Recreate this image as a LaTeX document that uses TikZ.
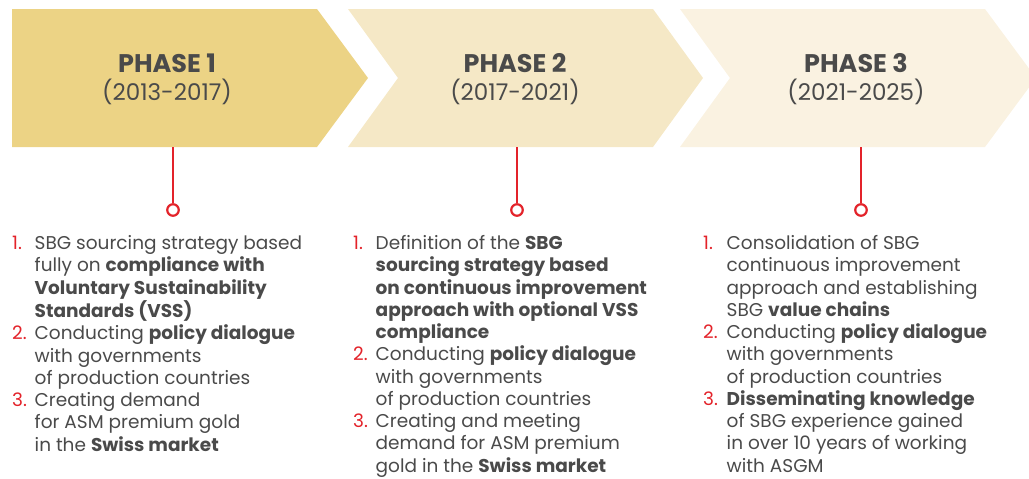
\documentclass[tikz,border=0pt]{standalone}
\usepackage{fontspec}
\setmainfont{Poppins}
\usepackage{array}
\definecolor{phaseA}{HTML}{ECD385}
\definecolor{phaseB}{HTML}{F5E8C6}
\definecolor{phaseC}{HTML}{FAF2E1}
\definecolor{ink}{HTML}{4A4A4A}
\definecolor{numred}{HTML}{E3232A}
\newcommand\num[1]{\textcolor{numred}{#1}}
\newcommand\listfont{\fontsize{18.5}{22.25}\selectfont}
\tikzset{
  phasetitle/.style={text=ink, align=center, inner sep=0pt, font=\fontsize{25.5}{28}\selectfont\bfseries},
  phaseyears/.style={text=ink, align=center, inner sep=0pt, font=\fontsize{23}{28}\selectfont},
  itemlist/.style={text=ink, anchor=north west, inner sep=0pt, font=\listfont},
  stem/.style={draw=numred, line width=2.2pt},
  knob/.style={circle, draw=numred, line width=2.2pt, fill=white, minimum size=11.5pt, inner sep=0pt},
}
\begin{document}
\begin{tikzpicture}[x=1pt,y=-1pt]
\useasboundingbox (0,0) rectangle (1029,479);
\clip (0,0) rectangle (1029,479);

% chevrons
\fill[phaseA] (12,9) -- (317,9) -- (368,78) -- (317,147) -- (12,147) -- cycle;
\fill[phaseB] (348,9) -- (653,9) -- (703,78) -- (653,147) -- (348,147) -- (398,78) -- cycle;
\fill[phaseC] (680,9) -- (985,9) -- (1036,78) -- (985,147) -- (680,147) -- (730,78) -- cycle;

% titles
\node[phasetitle, anchor=base] (t1) at (167,72) {PHASE 1};
\node[phaseyears, anchor=base] (y1) at (167,100) {(2013-2017)};
\node[phasetitle, anchor=base] (t2) at (515,72) {PHASE 2};
\node[phaseyears, anchor=base] (y2) at (515,100) {(2017-2021)};
\node[phasetitle, anchor=base] (t3) at (856,72) {PHASE 3};
\node[phaseyears, anchor=base] (y3) at (856,100) {(2021-2025)};

% stems with end knobs
\coordinate (s1) at (173,147);
\coordinate (s2) at (517,147);
\coordinate (s3) at (861,147);
\node[knob] (k1) at (173,210) {};
\node[knob] (k2) at (517,210) {};
\node[knob] (k3) at (861,210) {};
\draw[stem] (s1) -- (k1.north);
\draw[stem] (s2) -- (k2.north);
\draw[stem] (s3) -- (k3.north);

% item lists
\node[itemlist] (l1) at (12,233.9) {%
\begin{tabular}{@{}p{22.5pt}@{}l@{}}
\num{1.} & SBG sourcing strategy based\\
 & fully on \textbf{compliance with}\\
 & \textbf{Voluntary Sustainability}\\
 & \textbf{Standards (VSS)}\\
\num{2.} & Conducting \textbf{policy dialogue}\\
 & with governments\\
 & of production countries\\
\num{3.} & Creating demand\\
 & for ASM premium gold\\
 & in the \textbf{Swiss market}
\end{tabular}};

\node[itemlist] (l2) at (353,233.9) {%
\begin{tabular}{@{}p{22.5pt}@{}l@{}}
\num{1.} & Definition of the \textbf{SBG}\\
 & \textbf{sourcing strategy based}\\
 & \textbf{on continuous improvement}\\
 & \textbf{approach with optional VSS}\\
 & \textbf{compliance}\\
\num{2.} & Conducting \textbf{policy dialogue}\\
 & with governments\\
 & of production countries\\
\num{3.} & Creating and meeting\\
 & demand for ASM premium\\
 & gold in the \textbf{Swiss market}
\end{tabular}};

\node[itemlist] (l3) at (703,233.9) {%
\begin{tabular}{@{}p{23.5pt}@{}l@{}}
\num{1.} & Consolidation of SBG\\
 & continuous improvement\\
 & approach and establishing\\
 & SBG \textbf{value chains}\\
\num{2.} & Conducting \textbf{policy dialogue}\\
 & with governments\\
 & of production countries\\
\num{3.} & \textbf{Disseminating knowledge}\\
 & of SBG experience gained\\
 & in over 10 years of working\\
 & with ASGM
\end{tabular}};
\end{tikzpicture}
\end{document}
